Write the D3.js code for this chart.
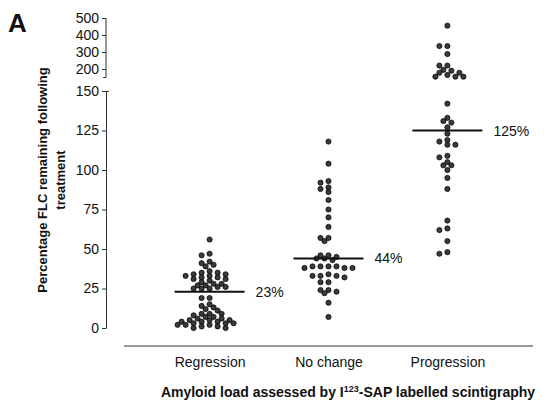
<!DOCTYPE html>
<html>
<head>
<meta charset="utf-8">
<style>
  body { margin: 0; background: #fff; }
  text { font-family: "Liberation Sans", Arial, sans-serif; fill: #111; }
  .tick text { font-size: 14px; }
  .axis path, .axis line { stroke: #333; }
</style>
<script src="https://d3js.org/d3.v7.min.js"></script>
</head>
<body>
<script>
var width = 547, height = 409;

// data
var categories = ["Regression", "No change", "Progression"];
var medians = [23, 44, 125];
var regression = [56, 47, 46, 42, 41, 40, 39,
  36, 35, 35, 34, 34, 33, 33, 32, 32, 31, 31, 30,
  29, 28, 28, 27, 27, 26, 26, 25, 25, 25,
  19, 19, 15, 14, 13, 12, 11, 9, 9, 9,
  8, 7, 7, 6, 6, 5, 5, 5, 4, 4, 4, 3, 3, 3, 2, 2, 2, 1, 1, 0, 0];
var noChange = [118, 104, 93, 92, 89, 88, 86, 81, 75, 70, 64, 57, 57, 55,
  46, 46, 45, 44, 44, 43, 39, 39, 39, 39, 38, 38, 38,
  34, 33, 33, 33, 32, 29, 29, 24, 24, 23, 22, 16, 7];
var progression = [455, 335, 335, 288, 220, 220, 195, 190, 178, 178, 165, 155, 155, 155,
  142, 133, 131, 130, 127, 123, 119, 118, 116, 116, 109, 108, 105, 103, 103, 100,
  95, 88, 68, 63, 62, 55, 48, 47];
var groups = [regression, noChange, progression];
var lowTicks = [0, 25, 50, 75, 100, 125, 150];
var highTicks = [200, 300, 400, 500];

var svg = d3.select("body").append("svg")
  .attr("width", width).attr("height", height);

var axisX = 106;
var yLow = d3.scaleLinear().domain([0, 150]).range([328, 91]);
var yHigh = d3.scaleLinear().domain([150, 500]).range([77.5, 18]);
var x = d3.scalePoint().domain(categories).range([124, 533]).padding(0.72);

function yPos(v) { return v > 150 ? yHigh(v) : yLow(v); }

// y axes (broken)
svg.append("g").attr("class", "axis")
  .attr("transform", "translate(" + axisX + ",0)")
  .call(d3.axisLeft(yLow).tickValues(lowTicks).tickSize(4).tickSizeOuter(0).tickPadding(3))
  .call(function(g) { g.selectAll(".tick line").filter(function(d) { return d == 150; }).attr("x2", 3).attr("x1", -4); });
svg.append("g").attr("class", "axis")
  .attr("transform", "translate(" + axisX + ",0)")
  .call(d3.axisLeft(yHigh).tickValues(highTicks).tickSize(4).tickSizeOuter(0).tickPadding(3))
  .call(function(g) { g.select(".domain").attr("d", "M0," + yHigh(500) + "V" + yHigh(150) + "h-3"); });

// x axis
svg.append("g").attr("class", "axis")
  .attr("transform", "translate(0,346)")
  .call(d3.axisBottom(x).tickSize(0).tickSizeOuter(0).tickPadding(11))
  .call(function(g) { g.select(".domain").attr("d", "M124,0H533"); });

// beeswarm
var r = 2.6, minDist = 4.6, step = 4;
groups.forEach(function(vals, gi) {
  var cx = x(categories[gi]);
  var placed = [];
  vals.slice().sort(function(a, b) { return b - a; }).forEach(function(v) {
    var py = yPos(v);
    for (var k = 0; k < 60; k++) {
      var off = (k % 2 == 0 ? 1 : -1) * Math.ceil(k / 2) * step;
      var ok = placed.every(function(p) {
        return Math.hypot(p[0] - (cx + off), p[1] - py) >= minDist;
      });
      if (ok) { placed.push([cx + off, py]); break; }
    }
  });
  svg.append("g").selectAll("circle").data(placed).enter().append("circle")
    .attr("cx", function(d) { return d[0]; })
    .attr("cy", function(d) { return d[1]; })
    .attr("r", r)
    .attr("fill", "#3a3a3a").attr("stroke", "#000").attr("stroke-width", 0.7);

  var my = yLow(medians[gi]);
  svg.append("line")
    .attr("x1", cx - 35).attr("x2", cx + 35)
    .attr("y1", my).attr("y2", my)
    .attr("stroke", "#111").attr("stroke-width", 2);
  svg.append("text")
    .attr("x", cx + 46).attr("y", my + 5)
    .style("font-size", "14px")
    .text(medians[gi] + "%");
});

// titles
svg.append("text").attr("x", 8).attr("y", 32)
  .style("font-size", "26px").style("font-weight", "bold").text("A");

var yt = svg.append("g").attr("transform", "translate(0,180) rotate(-90)");
yt.append("text").attr("x", 0).attr("y", 47).attr("text-anchor", "middle")
  .style("font-size", "13px").style("font-weight", "bold")
  .text("Percentage FLC remaining following");
yt.append("text").attr("x", 0).attr("y", 65).attr("text-anchor", "middle")
  .style("font-size", "13px").style("font-weight", "bold")
  .text("treatment");

var title = svg.append("text").attr("x", 348).attr("y", 397).attr("text-anchor", "middle")
  .style("font-size", "14px").style("font-weight", "bold");
title.append("tspan").text("Amyloid load assessed by I");
title.append("tspan").attr("dy", -5).style("font-size", "9px").text("123");
title.append("tspan").attr("dy", 5).text("-SAP labelled scintigraphy");
</script>
</body>
</html>
